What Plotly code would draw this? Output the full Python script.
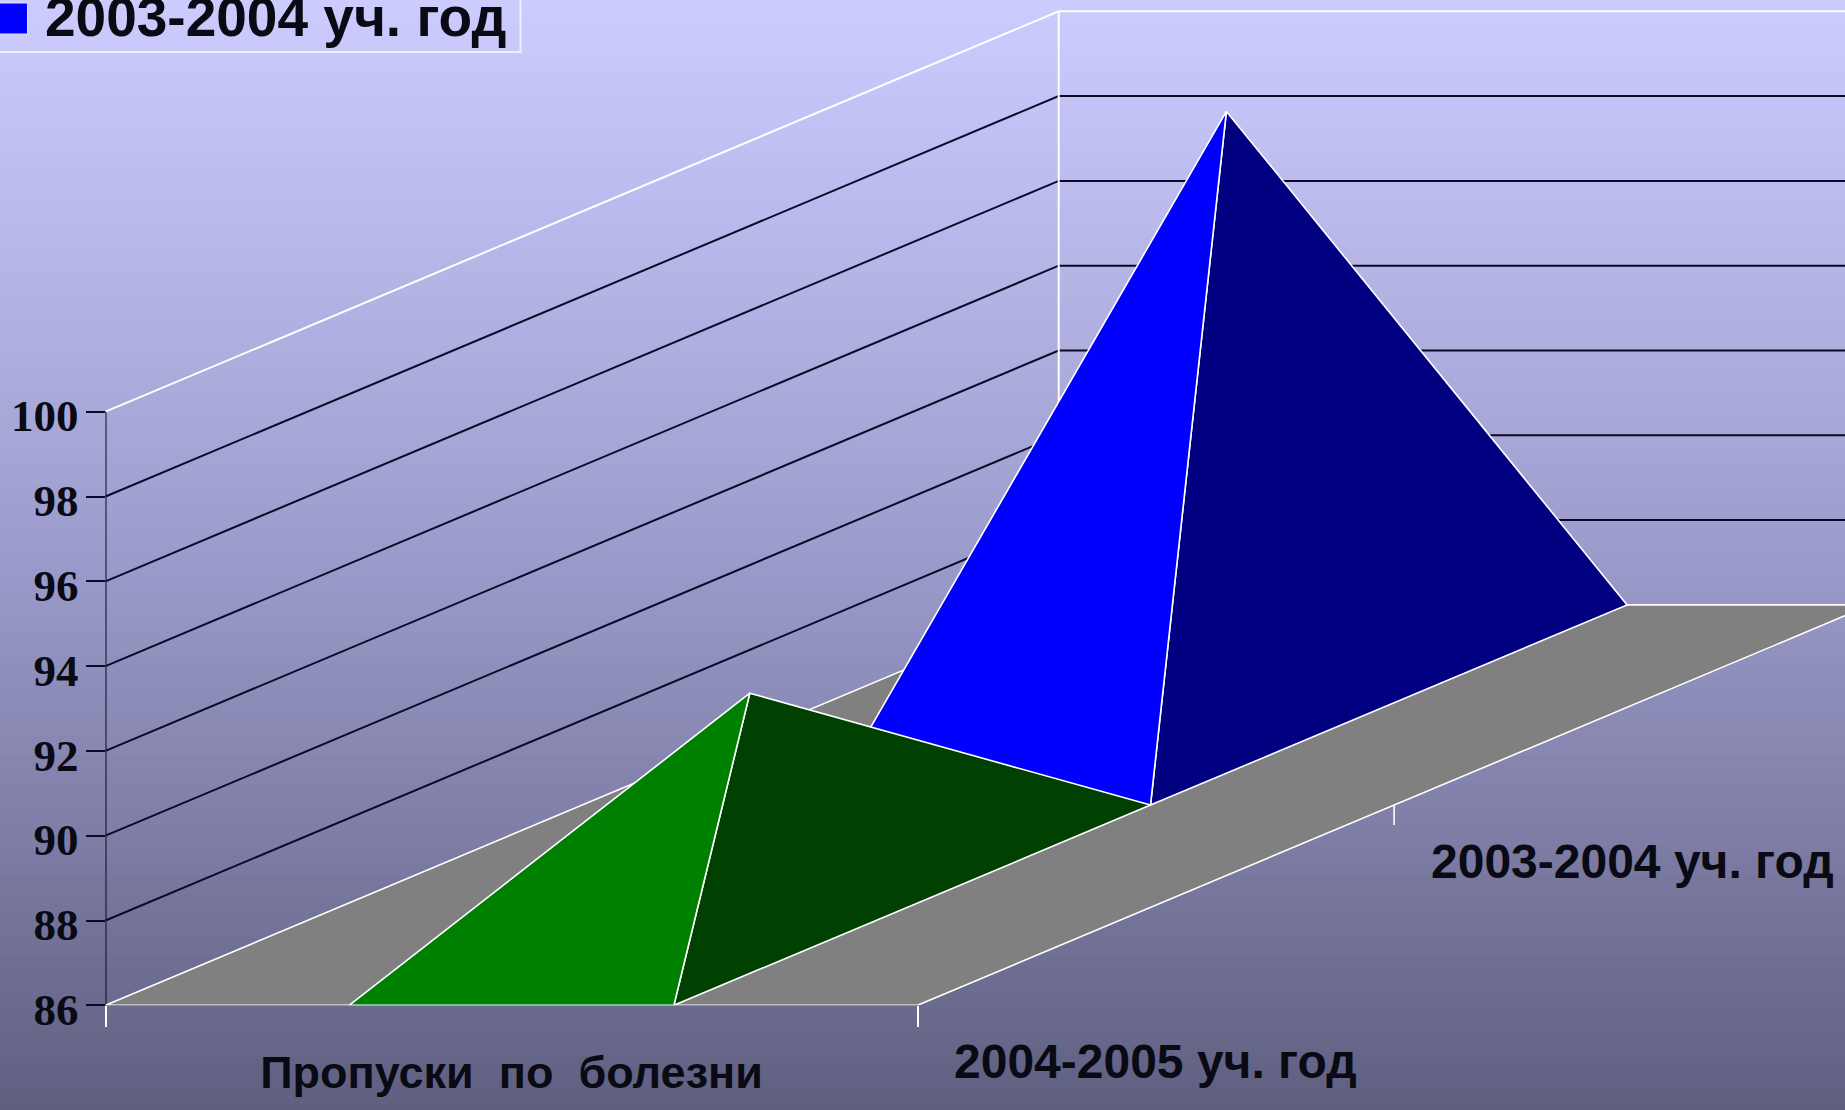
import plotly.graph_objects as go

# ---- data ----
categories = ["Пропуски\u00a0 по\u00a0 болезни"]
series_names = ["2004-2005 уч. год", "2003-2004 уч. год"]
series_values = [91, 100]
series_light = ["#008000", "#0000ff"]
series_dark = ["#004000", "#000080"]
y_ticks = [86, 88, 90, 92, 94, 96, 98, 100]

bg_colors = [[0, "#ccccff"], [0.5, "#9c9ccc"], [1, "#5f5f80"]]

# ---- chart geometry ----
W, H = 1845, 1110
LEFT, FLOOR = 105.5, 1005.3
PX_CAT, PX_VAL = 812.0, 42.4
DX, DY = 953.2 / PX_CAT, 400.4 / PX_VAL
Y0 = y_ticks[0]
BAR = 0.4


def proj(cat, depth, val):
    return cat + depth * DX, val + depth * DY


def path(pts):
    return [p[0] for p in pts], [p[1] for p in pts]


fig = go.Figure()

# gradient background on full-page axes
rows = [i / 111 for i in range(112)]
fig.add_trace(go.Heatmap(x=[0, 1], y=rows, z=[[r, r] for r in rows], colorscale=bg_colors,
                         showscale=False, hoverinfo="skip", xaxis="x", yaxis="y"))


def line(pts, color, width=1.6, name=""):
    x, y = path(pts)
    fig.add_trace(go.Scatter(x=x, y=y, mode="lines", line=dict(color=color, width=width),
                             xaxis="x2", yaxis="y2", showlegend=False, hoverinfo="skip",
                             cliponaxis=False, name=name))


def face(pts, color, name=""):
    x, y = path(pts + pts[:1])
    fig.add_trace(go.Scatter(x=x, y=y, mode="lines", fill="toself", fillcolor=color,
                             line=dict(color="white", width=1.6), xaxis="x2", yaxis="y2",
                             showlegend=False, hoverinfo="skip", cliponaxis=False, name=name))


# walls and gridlines
for v in y_ticks[1:]:
    col = "white" if v == y_ticks[-1] else "#0a0a28"
    line([proj(0, 0, v), proj(0, 1, v), proj(len(categories), 1, v)], col, 2)
line([proj(0, 1, Y0), proj(0, 1, y_ticks[-1])], "white", 2)
line([proj(0, 0, Y0), proj(0, 0, y_ticks[-1])], "#0a0a28", 2)

# floor
face([proj(0, 0, Y0), proj(1, 0, Y0), proj(1, 1, Y0), proj(0, 1, Y0)], "#808080", "floor")

# depth-axis tick
tx, ty = proj(1, 0.5, Y0)
line([(tx, ty), (tx, ty - 20 / PX_VAL)], "white", 1.6)

# pyramids, back to front
n = len(series_values)
for i in reversed(range(n)):
    d0, d1 = i / n, (i + 1) / n
    c0, c1 = 0.5 - BAR / 2, 0.5 + BAR / 2
    apex = proj(0.5, (d0 + d1) / 2, series_values[i])
    fl, fr, br = proj(c0, d0, Y0), proj(c1, d0, Y0), proj(c1, d1, Y0)
    face([fr, br, apex], series_dark[i], series_names[i] + " side")
    face([fl, fr, apex], series_light[i], series_names[i])

annotations = []
for i, name in enumerate(series_names):
    ax, ay = proj(1, (i + 0.5) / n, Y0)
    annotations.append(dict(x=ax, y=ay, xref="x2", yref="y2", yshift=-156, text=name,
                            showarrow=False, xanchor="center", yanchor="middle",
                            font=dict(family="Liberation Sans", size=48, color="#0a0a14", weight=700)))

# legend (runs off the page at the top and left, so it is drawn by hand)
shapes = [
    dict(type="rect", xref="paper", yref="paper", x0=-10 / W, x1=520.5 / W,
         y0=1 - 52 / H, y1=1 + 10 / H, line=dict(color="#eeeeff", width=2), fillcolor="rgba(0,0,0,0)"),
    dict(type="rect", xref="paper", yref="paper", x0=-5 / W, x1=27.5 / W,
         y0=1 - 34 / H, y1=1 - 3 / H, line=dict(color="#ddddff", width=1), fillcolor=series_light[1]),
]
annotations.append(dict(x=43 / W, y=1 + 16 / H, xref="paper", yref="paper", text=series_names[1],
                        showarrow=False, xanchor="left", yanchor="top", align="left",
                        font=dict(family="Liberation Sans", size=55, color="#0a0a14", weight=700)))

fig.update_layout(
    width=W, height=H, margin=dict(l=0, r=0, t=0, b=0, autoexpand=False),
    paper_bgcolor="#9c9ccc", plot_bgcolor="rgba(0,0,0,0)", showlegend=False,
    xaxis=dict(domain=[0, 1], range=[0, 1], visible=False),
    yaxis=dict(domain=[0, 1], range=[1, 0], visible=False),
    xaxis2=dict(domain=[LEFT / W, 1], range=[0, (W - LEFT) / PX_CAT], anchor="y2", showgrid=False,
                zeroline=False, showline=False, tickmode="array", tickvals=[0.5], ticktext=categories,
                ticks="", ticklabelstandoff=37,
                tickfont=dict(family="Liberation Sans", size=45, color="#0a0a14", weight=700),
                minor=dict(tickmode="array", tickvals=[0, 1], ticks="outside", ticklen=21,
                           tickcolor="white", tickwidth=1.6)),
    yaxis2=dict(domain=[(H - FLOOR) / H, 1], range=[Y0, Y0 + FLOOR / PX_VAL], anchor="x2", showgrid=False,
                zeroline=False, showline=False, tickmode="array", tickvals=y_ticks,
                ticks="outside", ticklen=19, tickcolor="#0a0a28", tickwidth=2, ticklabelshift=4,
                ticklabelstandoff=-2,
                tickfont=dict(family="Liberation Serif", size=45, color="#0a0a14", weight=700)),
    shapes=shapes, annotations=annotations,
)

fig.write_html("out.html", config=dict(displayModeBar=False),
               post_script="document.body.style.margin='0';document.body.style.overflow='hidden';")
